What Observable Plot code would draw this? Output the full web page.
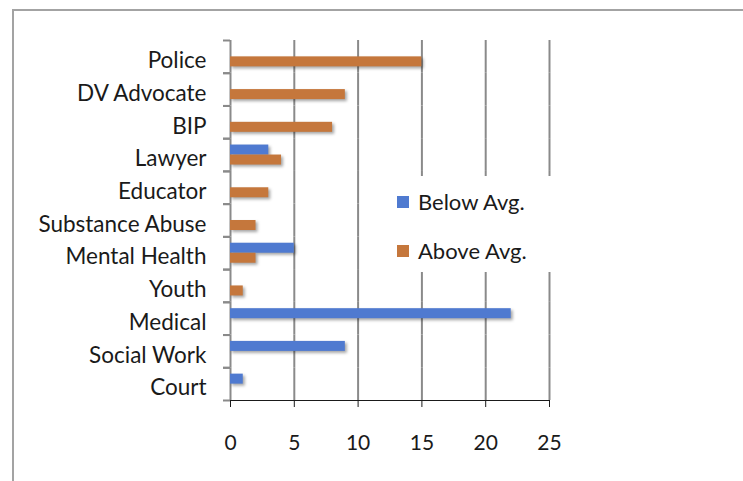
<!DOCTYPE html>
<html>
<head>
<meta charset="utf-8">
<script src="https://cdn.jsdelivr.net/npm/d3@7"></script>
<script src="https://cdn.jsdelivr.net/npm/@observablehq/plot@0.6"></script>
<style>
  html, body { margin: 0; padding: 0; background: #fff; overflow: hidden; }
  #wrap { position: relative; width: 743px; height: 481px; overflow: hidden; font-family: Lato, "Open Sans", sans-serif; }
  #border { position: absolute; left: 12px; top: 9px; width: 800px; height: 540px; border: 2px solid #a3a3a3; box-sizing: border-box; }
  #chart { position: absolute; left: 0; top: 0; }
  #chart svg text { font-family: Lato, "Open Sans", sans-serif; }
  #chart g[aria-label="bar"] { filter: drop-shadow(2px 2px 1.5px rgba(0,0,0,0.35)); }
  #legend { position: absolute; left: 372px; top: 176px; width: 186px; height: 96px; background: #fff; }
  .item { position: absolute; left: 25px; display: flex; align-items: center; font-size: 22px; color: #1a1a1a; white-space: nowrap; }
  .sw { width: 12px; height: 12px; margin-right: 9px; }
</style>
</head>
<body>
<div id="wrap">
  <div id="border"></div>
  <div id="chart"></div>
  <div id="legend">
    <div class="item" style="top:12px"><span class="sw" style="background:#4f7ad0"></span>Below Avg.</div>
    <div class="item" style="top:61px"><span class="sw" style="background:#c5773c"></span>Above Avg.</div>
  </div>
</div>
<script>
const categories = ["Police","DV Advocate","BIP","Lawyer","Educator","Substance Abuse","Mental Health","Youth","Medical","Social Work","Court"];
const seriesNames = ["Below Avg.","Above Avg."];
const belowAvg = [0,0,0,3,0,0,5,0,22,9,1];
const aboveAvg = [15,9,8,4,3,2,2,1,0,0,0];
const xTicks = [0,5,10,15,20,25];
const colors = ["#4f7ad0","#c5773c"];

const rows = [];
categories.forEach((c, i) => {
  if (belowAvg[i] > 0) rows.push({cat: c, series: seriesNames[0], value: belowAvg[i]});
  if (aboveAvg[i] > 0) rows.push({cat: c, series: seriesNames[1], value: aboveAvg[i]});
});

const chart = Plot.plot({
  width: 743,
  height: 481,
  marginLeft: 230,
  marginRight: 194,
  marginTop: 40,
  marginBottom: 81,
  style: {fontSize: "21px", color: "#1a1a1a", background: "transparent"},
  x: {domain: [0, 25], ticks: xTicks, tickSize: 7, tickPadding: 28, label: null, line: true},
  y: {domain: seriesNames, paddingInner: 0, paddingOuter: 0.636, axis: null, round: false},
  fy: {domain: categories, padding: 0, label: null, round: false},
  color: {domain: seriesNames, range: colors},
  marks: [
    Plot.gridX(xTicks, {stroke: "#8a8a8a", strokeOpacity: 1, strokeWidth: 2}),
    Plot.barX(rows, {x: "value", y: "series", fy: "cat", fill: "series"}),
    Plot.axisFy({anchor: "left", tickSize: 0, tickPadding: 24, dy: 4, label: null, fontSize: 22.5}),
    Plot.axisFy({anchor: "left", text: null, tickSize: 7, dy: -360 / 22, label: null, stroke: "#8a8a8a", strokeWidth: 2}),
    Plot.axisFy(categories.slice(-1), {anchor: "left", text: null, tickSize: 7, dy: 360 / 22, label: null, stroke: "#8a8a8a", strokeWidth: 2})
  ]
});
document.getElementById("chart").appendChild(chart);
</script>
</body>
</html>
